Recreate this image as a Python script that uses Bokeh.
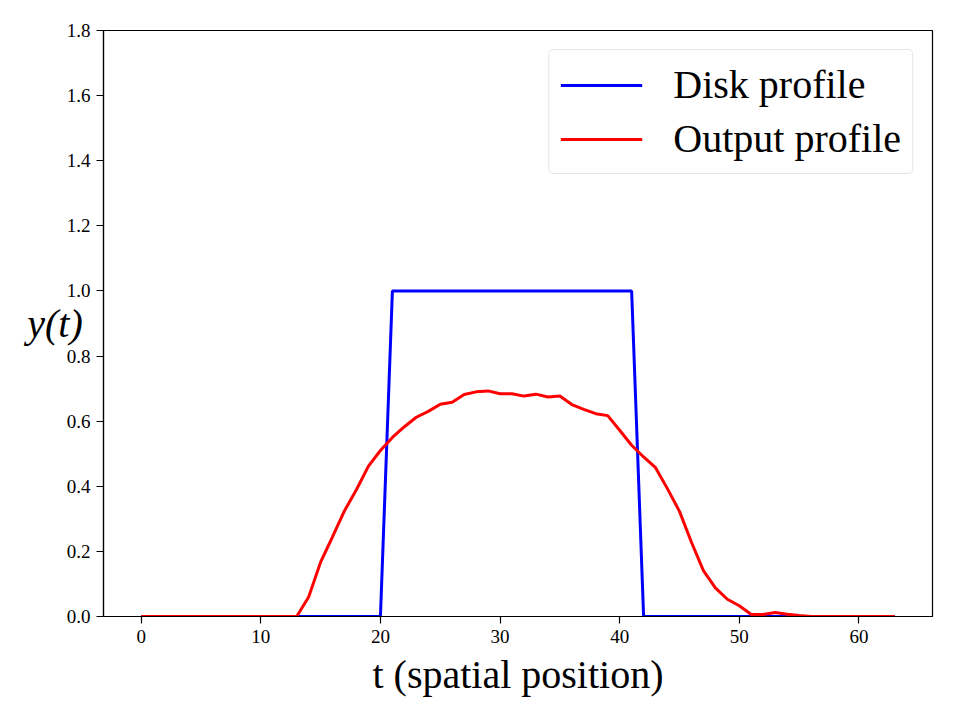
from bokeh.plotting import figure
from bokeh.models import Range1d, FixedTicker, NumeralTickFormatter, Legend, LegendItem
from bokeh.embed import file_html
from bokeh.resources import INLINE

t = list(range(64))
disk = [0.0] * 21 + [1.0] * 21 + [0.0] * 22
output = [0.0] * 13 + [
    0.0, 0.06, 0.167, 0.245, 0.325, 0.39, 0.462, 0.51, 0.55, 0.583,
    0.612, 0.63, 0.652, 0.658, 0.682, 0.69, 0.693, 0.684, 0.684, 0.677,
    0.683, 0.674, 0.677, 0.651, 0.636, 0.623, 0.617, 0.572, 0.526, 0.49,
    0.457, 0.392, 0.323, 0.228, 0.141, 0.088, 0.053, 0.033, 0.006, 0.006,
    0.012, 0.007, 0.003,
] + [0.0] * 8
x_ticks = [0, 10, 20, 30, 40, 50, 60]
y_ticks = [0.0, 0.2, 0.4, 0.6, 0.8, 1.0, 1.2, 1.4, 1.6, 1.8]
series_names = ["Disk profile", "Output profile"]

FONT = "Liberation Serif"

p = figure(width=960, height=720, output_backend="svg", toolbar_location=None,
           x_range=Range1d(-3.15, 66.15), y_range=Range1d(0, 1.8),
           min_border_left=103, min_border_right=28, min_border_top=30, min_border_bottom=104)
p.grid.visible = False
p.outline_line_color = "black"
p.outline_line_width = 1.2
p.background_fill_color = "white"
p.border_fill_color = "white"

r1 = p.line(t, disk, line_color="#0000ff", line_width=3)
r2 = p.line(t, output, line_color="#ff0000", line_width=3)

for ax in (p.xaxis[0], p.yaxis[0]):
    ax.major_label_text_font = FONT
    ax.major_label_text_font_size = "19px"
    ax.major_label_text_color = "black"
    ax.minor_tick_line_color = None
    ax.major_tick_out = 7
    ax.major_tick_in = 0
    ax.major_tick_line_width = 1.2
    ax.axis_line_width = 1.2
    ax.major_label_standoff = 6
    ax.axis_label_text_font = FONT
    ax.axis_label_text_font_size = "40px"
    ax.axis_label_text_color = "black"

p.xaxis[0].ticker = FixedTicker(ticks=x_ticks)
p.yaxis[0].ticker = FixedTicker(ticks=y_ticks)
p.yaxis[0].formatter = NumeralTickFormatter(format="0.0")

p.xaxis[0].axis_label = "t (spatial position)"
p.xaxis[0].axis_label_text_font_style = "normal"
p.xaxis[0].axis_label_standoff = 6

p.yaxis[0].axis_label = "y(t)"
p.yaxis[0].axis_label_text_font_style = "italic"
p.yaxis[0].axis_label_orientation = "horizontal"
p.yaxis[0].axis_label_standoff = -19

legend = Legend(items=[LegendItem(label=series_names[0], renderers=[r1]),
                       LegendItem(label=series_names[1], renderers=[r2])],
                location="top_right")
legend.label_text_font = FONT
legend.label_text_font_size = "40px"
legend.label_text_color = "black"
legend.glyph_width = 82
legend.glyph_height = 40
legend.label_height = 40
legend.label_standoff = 31
legend.padding = 11
legend.spacing = 7
legend.margin = 19
legend.border_line_color = "#cccccc"
legend.border_line_width = 1.2
legend.border_radius = 5
legend.background_fill_alpha = 0.8
p.add_layout(legend)

open("out.html", "w").write(file_html(p, INLINE))
